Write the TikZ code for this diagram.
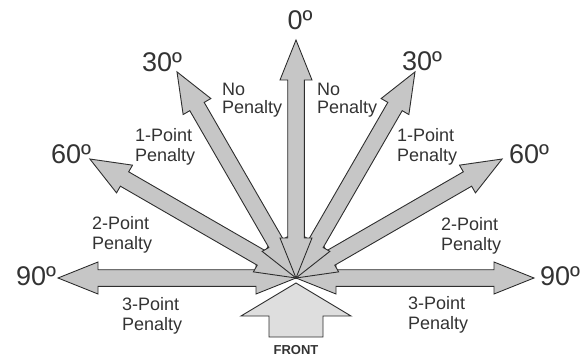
\documentclass[tikz,border=0pt]{standalone}
\usepackage{fontspec}
\setmainfont{Liberation Sans}
\definecolor{txt}{HTML}{333333}
\definecolor{arrfill}{HTML}{C6C6C6}
\definecolor{frontfill}{HTML}{DEDEDE}
\definecolor{edge}{HTML}{2E2E2E}
\newcommand\penarrow[1]{\draw[arr,shift={(C)},rotate=#1] (0,0) -- (40,16) -- (40,8.3) -- (198,8.3) -- (198,16) -- (238,0) -- (198,-16) -- (198,-8.3) -- (40,-8.3) -- (40,-16) -- cycle;}
\begin{document}
\begin{tikzpicture}[x=1pt,y=1pt,
  arr/.style={fill=arrfill,draw=edge,line width=0.9pt,line join=miter},
  big/.style={text=txt,font=\fontsize{27}{30}\selectfont,inner sep=0},
  lbl/.style={text=txt,font=\fontsize{18}{20}\selectfont,inner sep=0,anchor=north west,align=left},
  nolbl/.style={lbl,font=\fontsize{18}{17.5}\selectfont},
]
\useasboundingbox (0,0) rectangle (587,-360);
\coordinate (C) at (296,-278);
\foreach \a in {0,180,30,150,60,120,90} {\penarrow{\a}}
\draw[arr,fill=frontfill] (296,-283) -- (351,-316) -- (323,-316) -- (323,-337) -- (269,-337) -- (269,-316) -- (241,-316) -- cycle;

\node[big] (n0) at (300,-20.5) {0º};
\node[big] (l30) at (162,-62) {30º};
\node[big] (r30) at (422,-61) {30º};
\node[big] (l60) at (71,-154) {60º};
\node[big] (r60) at (529,-154) {60º};
\node[big] (l90) at (36,-276) {90º};
\node[big] (r90) at (560,-276) {90º};

\node[nolbl] (np1) at (222,-83) {No\\Penalty};
\node[nolbl] (np2) at (317,-83) {No\\Penalty};
\node[lbl] (p1l) at (135,-128) {1-Point\\Penalty};
\node[lbl] (p1r) at (397,-128) {1-Point\\Penalty};
\node[lbl] (p2l) at (92,-216) {2-Point\\Penalty};
\node[lbl] (p2r) at (441,-217) {2-Point\\Penalty};
\node[lbl] (p3l) at (122,-297) {3-Point\\Penalty};
\node[lbl] (p3r) at (408,-296) {3-Point\\Penalty};

\node[text=txt,font=\bfseries\fontsize{13}{15}\selectfont,inner sep=0] (front) at (296,-350) {FRONT};
\end{tikzpicture}
\end{document}
